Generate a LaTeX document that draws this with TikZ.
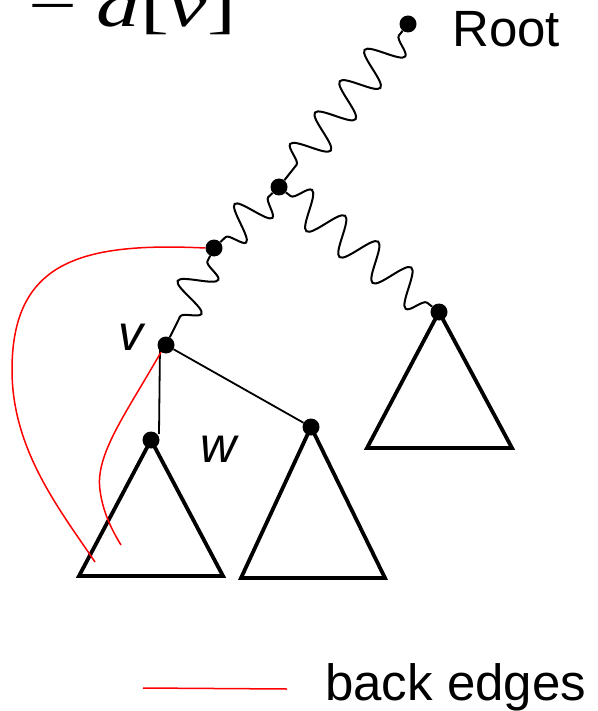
\documentclass[tikz,border=0pt]{standalone}
\usepackage{graphicx}
\usepackage{fontspec}
\setmainfont{Liberation Sans}
\newfontfamily\tms{Liberation Serif}
\usetikzlibrary{decorations.pathmorphing}
\begin{document}
\begin{tikzpicture}[x=1pt,y=-1pt,
  dot/.style={circle,fill=black,inner sep=0pt,minimum size=17pt},
  wave/.style={decorate,decoration={snake,segment length=40pt,amplitude=18pt,pre length=6pt,post length=6pt},line width=2pt},
  plain/.style={line width=1.8pt},
  tri/.style={draw,line width=3.8pt,line join=miter},
  back/.style={red,line width=1.5pt},
  lab/.style={inner sep=0pt,font=\fontsize{51}{51}\selectfont},
  ilab/.style={inner sep=0pt,font=\fontsize{50}{50}\selectfont\itshape}]
\useasboundingbox (0,0) rectangle (597,711);
\clip (0,0) rectangle (597,711);
% formula (cut at the edge, as in the reference)
\node[inner sep=0pt,anchor=base west,font=\tms\fontsize{62}{62}\selectfont] (f) at (28,27) {\scalebox{1.4}[1]{−\:\textit{d}[\textit{v}]}};
% triangles
\draw[tri] (151,440) -- (79,576) -- (223,576) -- cycle;
\draw[tri] (311,427) -- (241,578) -- (385,578) -- cycle;
\draw[tri] (439,312) -- (367,448) -- (512,448) -- cycle;
% dots
\node[dot] (root) at (408,24) {};
\node[dot] (a) at (279,187) {};
\node[dot] (b) at (214,248) {};
\node[dot] (v) at (166,345) {};
\node[dot] (w) at (151,440) {};
\node[dot] (m) at (311,427) {};
\node[dot] (r) at (439,312) {};
% wavy paths
\draw[wave] (root) -- (a);
\draw[wave,decoration={segment length=36pt}] (a) -- (b);
\draw[wave,decoration={segment length=38pt}] (b) -- (v);
\draw[wave,decoration={segment length=42pt}] (a) -- (r);
% tree edges
\draw[plain] ([xshift=-6pt]v.center) -- ([xshift=8pt,yshift=6pt]w.center);
\draw[plain] (v) -- (m);
% back edges
\draw[back] (b.west) .. controls (80,242) and (12,262) .. (12,370) .. controls (12,450) and (60,510) .. (95,562);
\draw[back] (v.235) .. controls (125,415) and (95,455) .. (100,490) .. controls (103,515) and (115,535) .. (121,545);
% labels
\node[lab,anchor=base west] (rootlab) at (452,47) {Root};
\node[ilab,anchor=base west] (vlab) at (118,350) {v};
\node[ilab,anchor=base west] (wlab) at (200,462) {w};
% legend
\draw[back] (143,688) -- (287,689);
\node[lab,anchor=base west] (leg) at (325,700) {back edges};
\end{tikzpicture}
\end{document}
